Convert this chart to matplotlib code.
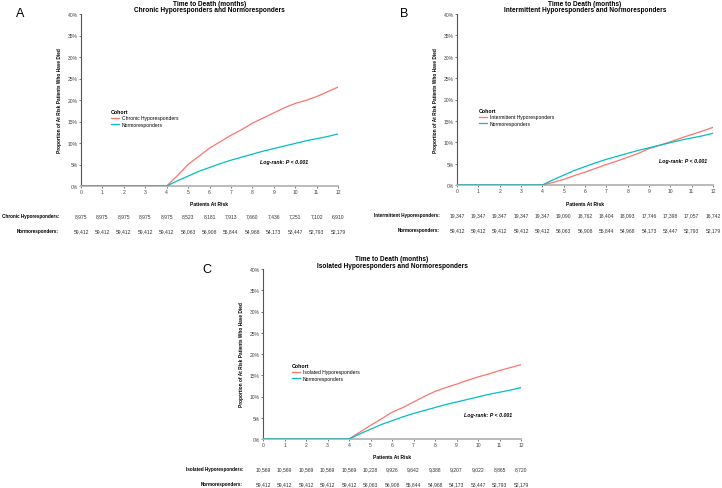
import numpy as np
import matplotlib
matplotlib.use("Agg")
import matplotlib.pyplot as plt
from matplotlib.lines import Line2D

plt.rcParams["font.family"] = ["Liberation Sans", "DejaVu Sans"]

# ── Data ─────────────────────────────────────────────────────────
months = [0, 4, 4.5, 5, 5.5, 6, 6.5, 7, 7.5, 8, 8.5, 9, 9.5, 10, 10.5, 11, 11.5, 12]

normo_pct = [0, 0, 1.2, 2.3, 3.4, 4.3, 5.2, 6.0, 6.7, 7.4, 8.1, 8.7, 9.3, 9.9, 10.5, 11.0, 11.5, 12.1]
chronic_pct = [0, 0, 2.4, 5.0, 6.9, 8.8, 10.3, 11.8, 13.1, 14.6, 15.8, 17.0, 18.2, 19.2, 19.9, 20.8, 21.9, 23.0]
intermittent_pct = [0, 0, 0.6, 1.3, 2.2, 3.0, 3.9, 4.8, 5.6, 6.5, 7.4, 8.5, 9.3, 10.1, 11.0, 11.8, 12.6, 13.5]
isolated_pct = [0, 0, 1.6, 3.2, 4.7, 6.3, 7.4, 8.7, 10.0, 11.2, 12.1, 12.9, 13.8, 14.6, 15.3, 16.1, 16.8, 17.5]

risk_months = list(range(13))
risk_normo = ["59,412"] * 5 + ["58,063", "56,908", "55,844", "54,968",
                               "54,173", "53,447", "52,793", "52,179"]
risk_chronic = ["8,975"] * 5 + ["8,523", "8,181", "7,913", "7,660",
                                "7,436", "7,251", "7,102", "6,910"]
risk_intermittent = ["19,347"] * 5 + ["19,090", "18,762", "18,404", "18,093",
                                      "17,746", "17,398", "17,057", "16,742"]
risk_isolated = ["10,569"] * 5 + ["10,228", "9,926", "9,642", "9,388",
                                  "9,207", "9,022", "8,865", "8,720"]

y_ticks = [0, 5, 10, 15, 20, 25, 30, 35, 40]

# ── Style ────────────────────────────────────────────────────────
C_HYPO = "#F8766D"
C_NORM = "#00BFC4"
W, H = 722, 489


def px_axes(left, top, right, bottom):
    return [left / W, 1 - bottom / H, (right - left) / W, (bottom - top) / H]


def panel(fig, box, letter, letter_xy, title_name, hypo_name, hypo_pct,
          risk_hypo, legend_xy, logrank_xy, rowlabel_x):
    left, top, right, bottom = box
    ax = fig.add_axes(px_axes(left, top, right, bottom))
    ax.plot(months, hypo_pct, color=C_HYPO, lw=0.9, zorder=3)
    ax.plot(months, normo_pct, color=C_NORM, lw=0.9, zorder=4)

    ax.set_xlim(0, 12)
    ax.set_ylim(0, 40)
    ax.set_xticks(risk_months)
    ax.set_yticks(y_ticks)
    ax.set_yticklabels([f"{t}%" for t in y_ticks])
    ax.tick_params(labelsize=3.6, length=1.5, width=0.5, pad=1,
                   colors="#444444")
    for s in ("top", "right"):
        ax.spines[s].set_visible(False)
    ax.spines["left"].set_color("#555555")
    ax.spines["left"].set_linewidth(0.8)
    ax.spines["bottom"].set_color("#bbbbbb")
    ax.spines["bottom"].set_linewidth(1.4)
    ax.set_ylabel("Proportion of At Risk Patients Who Have Died",
                  fontsize=3.4, fontweight="bold", labelpad=4)

    cx = (left + right) / 2
    fig.text(cx / W, 1 - (top - 10) / H, "Time to Death (months)",
             ha="center", va="center", fontsize=4.7, fontweight="bold")
    fig.text(cx / W, 1 - (top - 4) / H,
             f"{title_name} Hyporesponders and Normoresponders",
             ha="center", va="center", fontsize=4.7, fontweight="bold")
    fig.text(letter_xy[0] / W, 1 - letter_xy[1] / H, letter,
             ha="left", va="center", fontsize=9)

    # legend
    lx, ly = legend_xy
    handles = [Line2D([], [], color=C_HYPO, lw=0.9),
               Line2D([], [], color=C_NORM, lw=0.9)]
    leg = ax.legend(handles, [f"{hypo_name} Hyporesponders", "Normoresponders"],
                    title="Cohort", loc="upper left",
                    bbox_to_anchor=((lx - left) / (right - left),
                                    (bottom - ly) / (bottom - top)),
                    frameon=False, fontsize=3.6, title_fontsize=3.8,
                    handlelength=1.6, handletextpad=0.6, labelspacing=0.3,
                    borderaxespad=0, borderpad=0)
    leg.get_title().set_fontweight("bold")
    leg._legend_box.align = "left"

    ax.text((logrank_xy[0] - left) / (right - left),
            (bottom - logrank_xy[1]) / (bottom - top),
            "Log-rank: P < 0.001", transform=ax.transAxes, ha="center",
            va="center", fontsize=3.8, fontweight="bold", style="italic")

    # risk table
    trans = ax.get_xaxis_transform()
    h = bottom - top
    fig.text(cx / W, 1 - (bottom + 18) / H, "Patients At Risk",
             ha="center", va="center", fontsize=3.6, fontweight="bold")
    for yy, lab, vals in [(bottom + 30, f"{hypo_name} Hyporesponders:", risk_hypo),
                          (bottom + 45, "Normoresponders:", risk_normo)]:
        fig.text(rowlabel_x / W, 1 - yy / H, lab, ha="right", va="center",
                 fontsize=3.3, fontweight="bold")
        for m, v in zip(risk_months, vals):
            ax.text(m, -(yy - bottom) / h, v, transform=trans, ha="center",
                    va="center", fontsize=3.6, color="#333333")
    return ax


fig = plt.figure(figsize=(W / 100, H / 100), dpi=100)
fig.patch.set_facecolor("white")

panel(fig, (81, 15, 338, 187), "A", (16, 14), "Chronic", "Chronic",
      chronic_pct, risk_chronic, (111, 110), (284, 163), 59)
panel(fig, (457, 15, 713, 186), "B", (400, 14), "Intermittent", "Intermittent",
      intermittent_pct, risk_intermittent, (479, 109), (683, 161), 440)
panel(fig, (263, 270, 521, 440), "C", (202, 270), "Isolated", "Isolated",
      isolated_pct, risk_isolated, (292, 364), (488, 416), 243)

fig.savefig("out.png", dpi=100, facecolor="white")
